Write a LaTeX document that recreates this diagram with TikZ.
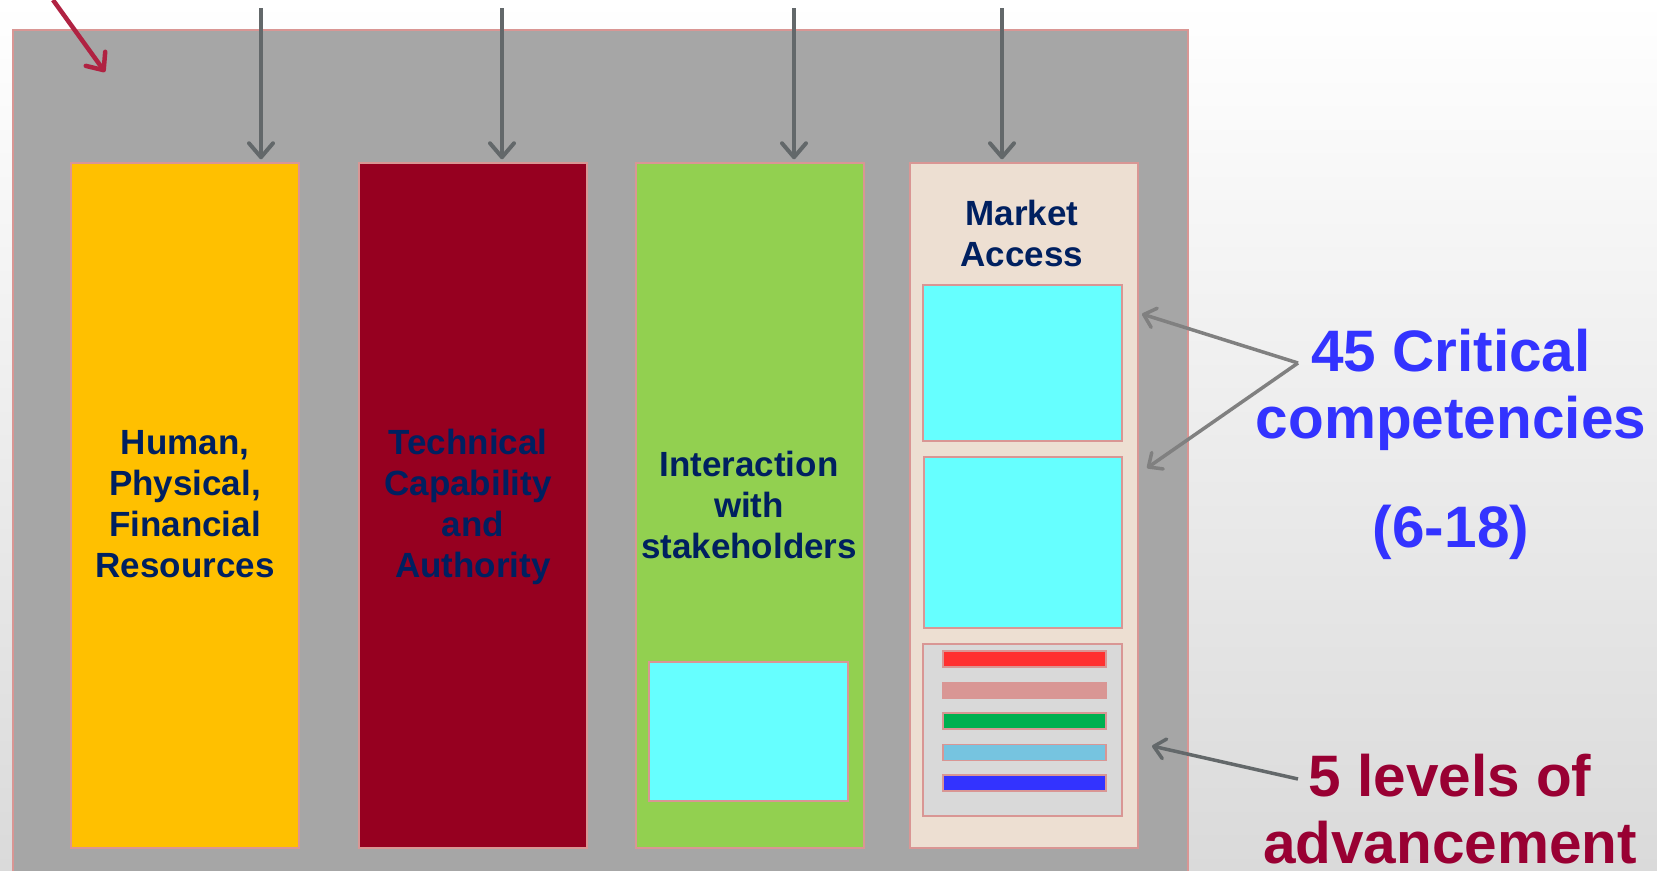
\documentclass[tikz,border=0pt]{standalone}
\usepackage{fontspec}
\setmainfont{Liberation Sans}
\usetikzlibrary{arrows.meta}
\definecolor{bggray}{RGB}{218,218,218}
\definecolor{bgmid}{RGB}{244,244,244}
\definecolor{framegray}{RGB}{166,166,166}
\definecolor{pinkb}{RGB}{217,150,148}
\definecolor{colyellow}{RGB}{255,192,0}
\definecolor{colred}{RGB}{150,0,32}
\definecolor{colgreen}{RGB}{146,208,80}
\definecolor{colbeige}{RGB}{237,223,210}
\definecolor{cyanbox}{RGB}{102,255,255}
\definecolor{lvlgray}{RGB}{217,217,217}
\definecolor{barred}{RGB}{255,48,48}
\definecolor{barpink}{RGB}{217,150,148}
\definecolor{bargreen}{RGB}{0,176,80}
\definecolor{barlblue}{RGB}{118,196,224}
\definecolor{barblue}{RGB}{51,51,255}
\definecolor{navy}{RGB}{0,32,96}
\definecolor{critblue}{RGB}{51,51,255}
\definecolor{lvlred}{RGB}{153,0,51}
\definecolor{arrowgray}{RGB}{99,104,106}
\definecolor{lightarrow}{RGB}{128,128,128}
\definecolor{arrowred}{RGB}{176,34,66}
\tikzset{
  column/.style={draw=pinkb, line width=1.5pt, minimum width=228pt, minimum height=685pt, inner sep=0pt},
  cbox/.style={draw=pinkb, line width=1.5pt, fill=cyanbox, inner sep=0pt},
  levelbar/.style={draw=pinkb, line width=1.2pt, minimum width=163pt, minimum height=16pt, inner sep=0pt},
  coltext/.style={font=\fontsize{35}{41}\selectfont\bfseries, text=navy, align=center, inner sep=0pt},
  bigtext/.style={font=\fontsize{58.5}{67}\selectfont\bfseries, align=center, inner sep=0pt},
  downarrow/.style={draw=arrowgray, line width=4pt, -{Straight Barb[length=14pt,width=24pt,round]}},
  labelarrow/.style={line width=3.5pt, -{Straight Barb[length=11pt,width=20pt,round]}},
}
\begin{document}
\begin{tikzpicture}[x=1pt,y=-1pt]
\useasboundingbox (0,0) rectangle (1657,870);
\shade[top color=white, middle color=bgmid, bottom color=bggray] (0,0) rectangle (1657,870);
% frame
\node[draw=pinkb, fill=framegray, line width=2pt, minimum width=1175pt, minimum height=860pt, inner sep=0pt] (frame) at (600.5,460) {};
% columns
\node[column, fill=colyellow] (yellow) at (185,505.5) {};
\node[column, fill=colred] (red) at (473,505.5) {};
\node[column, fill=colgreen] (green) at (750,505.5) {};
\node[column, fill=colbeige] (beige) at (1024,505.5) {};
% inner boxes
\node[cbox, minimum width=199pt, minimum height=139pt] (gbox) at (748.5,731.5) {};
\node[cbox, minimum width=199pt, minimum height=156pt] (comp1) at (1022.5,363) {};
\node[cbox, minimum width=198pt, minimum height=171pt] (comp2) at (1023,542.5) {};
\node[draw=pinkb, line width=1.5pt, fill=lvlgray, minimum width=199pt, minimum height=172pt, inner sep=0pt] (levels) at (1022.5,730) {};
\node[levelbar, fill=barred] (bar1) at (1024.5,659) {};
\node[levelbar, fill=barpink, draw=barpink] (bar2) at (1024.5,690.5) {};
\node[levelbar, fill=bargreen] (bar3) at (1024.5,721) {};
\node[levelbar, fill=barlblue] (bar4) at (1024.5,752.5) {};
\node[levelbar, fill=barblue] (bar5) at (1024.5,783) {};
% column texts (anchor base = baseline of last line)
\node[coltext, anchor=base] (tyellow) at (185,577) {Human,\\Physical,\\Financial\\Resources};
\node[coltext, anchor=base] (tred) at (468,577) {Technical\\Capability\\\hspace*{10pt}and\\\hspace*{10pt}Authority};
\node[coltext, anchor=base] (tgreen) at (749,558) {Interaction\\with\\stakeholders};
\node[coltext, anchor=base] (tbeige) at (1022,266) {Market\\Access};
% side labels
\node[bigtext, text=critblue, anchor=base] (crit) at (1451,547) {45 Critical\\competencies\\[42pt](6-18)};
\node[bigtext, text=lvlred, anchor=base] (lvl) at (1450,863) {5 levels of\\advancement};
% arrows
\coordinate (r0) at (53,0);
\coordinate (r1) at (105,72);
\draw[draw=arrowred, line width=4.5pt, -{Straight Barb[length=14pt,width=24pt,round]}] (r0) -- (r1);
\foreach \i/\x/\c in {1/261/yellow,2/502/red,3/794/green,4/1002/beige}{
  \coordinate (s\i) at (\x,8);
  \draw[downarrow, shorten >=3pt] (s\i) -- (s\i |- \c.north);
}
\coordinate (cfork) at (1298,363);
\coordinate (ct1) at (1142,314);
\coordinate (ct2) at (1147,468);
\draw[labelarrow, draw=lightarrow] (cfork) -- (ct1);
\draw[labelarrow, draw=lightarrow] (cfork) -- (ct2);
\coordinate (lfrom) at (1298,779);
\coordinate (lt) at (1152,746);
\draw[labelarrow, draw=arrowgray] (lfrom) -- (lt);
\end{tikzpicture}
\end{document}
